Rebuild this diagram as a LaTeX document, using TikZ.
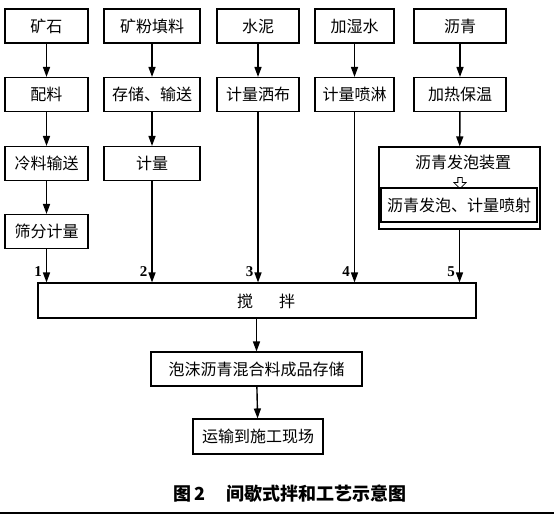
\documentclass[tikz,border=0pt]{standalone}
\usepackage{fontspec}
\setmainfont{Noto Sans CJK SC}
\newfontfamily\numfont{Liberation Serif}
\usetikzlibrary{arrows.meta, shapes.arrows}

\begin{document}
\begin{tikzpicture}[x=1pt, y=-1pt,
  box/.style={rectangle, draw, line width=1.1pt, minimum height=34pt, inner sep=0pt,
              font=\fontsize{16}{19}\selectfont},
  arr/.style={-{Triangle[length=10pt, width=7pt]}, line width=1.4pt},
  num/.style={font=\numfont\bfseries\fontsize{15}{17}\selectfont, anchor=south east,
              inner sep=1pt, xshift=-3pt, yshift=4pt}
]
\useasboundingbox (0,0) rectangle (554,515);
% raw materials
\node[box, minimum width=83pt] (ore)    at (46.5,26) {矿石};
\node[box, minimum width=96pt] (powder) at (152,26)  {矿粉填料};
\node[box, minimum width=82pt] (cement) at (258,26)  {水泥};
\node[box, minimum width=79pt] (water)  at (354.5,26) {加湿水};
\node[box, minimum width=92pt] (asph)   at (460,26)  {沥青};
% second row
\node[box, minimum width=83pt] (batch)  at (46.5,94.5) {配料};
\node[box, minimum width=96pt] (store)  at (152,94.5)  {存储、输送};
\node[box, minimum width=82pt] (spread) at (258,94.5)  {计量洒布};
\node[box, minimum width=79pt] (spray)  at (354.5,94.5) {计量喷淋};
\node[box, minimum width=92pt] (heat)   at (460,94.5)  {加热保温};
% third and fourth rows
\node[box, minimum width=83pt] (cold)   at (46.5,163.5) {冷料输送};
\node[box, minimum width=96pt] (meter)  at (152,163.5)  {计量};
\node[box, minimum width=83pt] (sieve)  at (46.5,231.5) {筛分计量};
% foaming unit
\node[box, minimum width=161pt, minimum height=82pt] (foam) at (459.5,188) {};
\node[font=\fontsize{16}{19}\selectfont, inner sep=0pt] (foamt) at (463,162) {沥青发泡装置};
\node[box, minimum width=156pt] (foamin) at (459,205) {沥青发泡、计量喷射};
\node[single arrow, draw, line width=0.8pt, shape border rotate=270, minimum height=11pt,
      minimum width=12pt, single arrow head extend=2.5pt, inner sep=1pt] (hollow) at (460,182) {};
% mixing and after
\node[box, minimum width=438pt, minimum height=35pt] (mix) at (257,300.5) {};
\node[font=\fontsize{16}{19}\selectfont, inner sep=0pt] (mixt) at (266,301) {搅\hspace{26pt}拌};
\node[box, minimum width=211pt] (product) at (256.5,369) {泡沫沥青混合料成品存储};
\node[box, minimum width=130pt, minimum height=35pt] (trans) at (258,436.5) {运输到施工现场};
\node[font=\bfseries\fontsize{18}{21}\selectfont] (cap) at (290,494) {图\,2\hspace{22pt}间歇式拌和工艺示意图};
\coordinate (rl) at (0,513);
\coordinate (rr) at (554,513);
\draw[line width=2.5pt] (rl) -- (rr);

\draw[arr] (ore) -- (batch);
\draw[arr] (batch) -- (cold);
\draw[arr] (cold) -- (sieve);
\draw[arr] (powder) -- (store);
\draw[arr] (store) -- (meter);
\draw[arr] (cement) -- (spread);
\draw[arr] (water) -- (spray);
\draw[arr] (asph) -- (heat);
\draw[arr] (heat) -- (foam);
\draw[arr] (sieve.south)  -- node[num, pos=1] {1} (sieve.south |- mix.north);
\draw[arr] (meter.south)  -- node[num, pos=1] {2} (meter.south |- mix.north);
\draw[arr] (spread.south) -- node[num, pos=1] {3} (spread.south |- mix.north);
\draw[arr] (spray.south)  -- node[num, pos=1] {4} (spray.south |- mix.north);
\draw[arr] (foam.south)   -- node[num, pos=1] {5} (foam.south |- mix.north);
\draw[arr] (mix.south -| product) -- (product);
\draw[arr] (product) -- (trans);
\end{tikzpicture}
\end{document}
